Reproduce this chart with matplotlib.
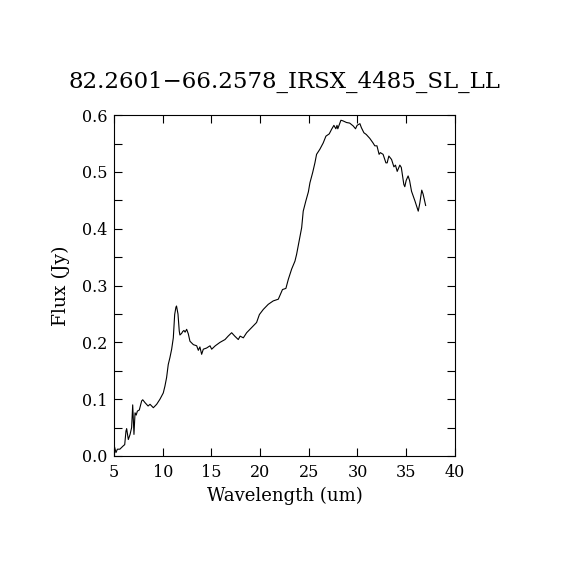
import matplotlib
matplotlib.use("Agg")
import matplotlib.pyplot as plt
from matplotlib.ticker import MultipleLocator, FormatStrFormatter

title = "82.2601\u221266.2578_IRSX_4485_SL_LL"
xlabel = "Wavelength (um)"
ylabel = "Flux (Jy)"

wavelength = [5.07, 5.2, 5.35, 5.6, 5.96, 6.1, 6.23, 6.3, 6.47, 6.65, 6.81, 6.92,
              7.05, 7.16, 7.28, 7.4, 7.6, 7.84, 7.95, 8.18, 8.5, 8.7, 9.04, 9.38,
              9.72, 10.06, 10.23, 10.4, 10.57, 10.74, 10.92, 11.09, 11.23, 11.36,
              11.42, 11.57, 11.7, 11.77, 11.95, 12.05, 12.18, 12.3, 12.46, 12.63,
              12.8, 13.15, 13.49, 13.66, 13.82, 14.0, 14.17, 14.5, 14.86, 15.03,
              15.4, 15.88, 16.4, 16.72, 17.08, 17.4, 17.76, 17.95, 18.28, 18.62,
              19.13, 19.64, 19.93, 20.33, 20.84, 21.35, 21.87, 22.1, 22.3, 22.65,
              22.9, 23.24, 23.58, 23.75, 24.0, 24.27, 24.43, 24.7, 24.96, 25.12,
              25.4, 25.63, 25.8, 26.14, 26.48, 26.76, 27.1, 27.34, 27.58, 27.78,
              27.9, 27.98, 28.3, 28.5, 28.88, 29.2, 29.56, 29.8, 29.96, 30.25,
              30.4, 30.66, 30.9, 31.27, 31.6, 31.78, 32.0, 32.22, 32.35, 32.63,
              32.92, 33.05, 33.22, 33.5, 33.74, 33.9, 34.08, 34.35, 34.5, 34.76,
              34.86, 35.0, 35.2, 35.35, 35.55, 35.9, 36.24, 36.4, 36.6, 36.74, 37.0]
flux = [0.015, 0.006, 0.012, 0.012, 0.018, 0.02, 0.044, 0.048, 0.029, 0.038, 0.05, 0.09,
        0.038, 0.076, 0.072, 0.079, 0.081, 0.097, 0.099, 0.094, 0.088, 0.091, 0.085, 0.091,
        0.1, 0.111, 0.123, 0.138, 0.161, 0.173, 0.188, 0.208, 0.249, 0.262,
        0.264, 0.25, 0.22, 0.213, 0.216, 0.219, 0.221, 0.218, 0.223, 0.215,
        0.202, 0.196, 0.194, 0.186, 0.192, 0.179, 0.188, 0.19, 0.194, 0.188,
        0.194, 0.2, 0.205, 0.211, 0.217, 0.211, 0.205, 0.211, 0.208, 0.217,
        0.226, 0.235, 0.249, 0.258, 0.267, 0.273, 0.276, 0.285, 0.293, 0.295,
        0.311, 0.329, 0.343, 0.355, 0.378, 0.402, 0.431, 0.449, 0.465, 0.481,
        0.499, 0.516, 0.531, 0.54, 0.551, 0.563, 0.567, 0.575, 0.582, 0.576,
        0.582, 0.576, 0.591, 0.59, 0.587, 0.586, 0.581, 0.576, 0.582, 0.585,
        0.578, 0.569, 0.566, 0.559, 0.551, 0.546, 0.546, 0.531, 0.534, 0.531,
        0.516, 0.516, 0.528, 0.522, 0.509, 0.512, 0.501, 0.512, 0.508, 0.478,
        0.474, 0.485, 0.493, 0.485, 0.466, 0.449, 0.431, 0.445, 0.468, 0.461, 0.441]

plt.rcParams['font.family'] = ['DejaVu Serif']
fig = plt.figure(figsize=(5.7, 5.7), dpi=100)
ax = fig.add_axes([0.2, 0.2, 0.598, 0.598])
ax.plot(wavelength, flux, color='black', lw=0.8)
ax.set_xlim(5, 40)
ax.set_ylim(0, 0.6)
ax.xaxis.set_major_locator(MultipleLocator(5))
ax.yaxis.set_major_locator(MultipleLocator(0.1))
ax.yaxis.set_minor_locator(MultipleLocator(0.05))
ax.yaxis.set_major_formatter(FormatStrFormatter('%.1f'))
ax.tick_params(which='both', direction='in', top=True, right=True, length=6,
               width=0.8, labelsize=11.5)
ax.tick_params(axis='x', pad=6)
ax.tick_params(axis='y', pad=5)
for s in ax.spines.values():
    s.set_linewidth(0.8)
ax.set_title(title, fontsize=16.5, pad=20)
ax.set_xlabel(xlabel, fontsize=13, labelpad=4)
ax.set_ylabel(ylabel, fontsize=13.5, labelpad=8)
fig.savefig("out.png", dpi=100)
